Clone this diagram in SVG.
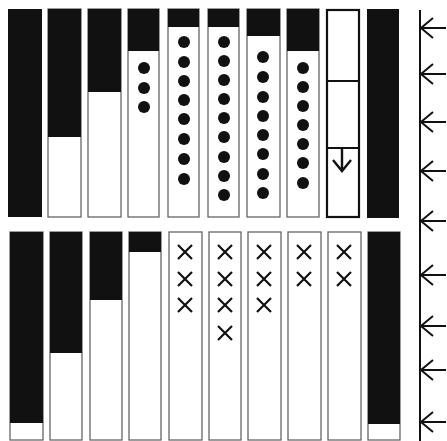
<svg xmlns="http://www.w3.org/2000/svg" width="447" height="441" viewBox="0 0 447 441">
<style>
.col{fill:#fff;stroke:#666;stroke-width:1.3}
.blk{fill:#111}
.dot{fill:#111}
.x{stroke:#111;stroke-width:2.2;fill:none}
.ax{stroke:#111;stroke-width:2;fill:none}
</style>
<defs>
<circle id="d" r="6" class="dot"/>
<path id="x" d="M-7,-7L7,7M7,-7L-7,7" class="x"/>
<path id="ar" d="M421,0H446M433,-10L421,0L433,10" class="ax"/>
</defs>
<rect width="447" height="441" fill="#fff"/>
<g id="top-1"><rect class="blk" x="8" y="9" width="34" height="208"/></g>
<g id="top-2"><rect class="col" x="48" y="9" width="33" height="208"/><rect class="blk" x="48" y="9" width="33" height="128"/></g>
<g id="top-3"><rect class="col" x="88" y="9" width="33" height="208"/><rect class="blk" x="88" y="9" width="33" height="83"/></g>
<g id="top-4"><rect class="col" x="128" y="9" width="31" height="208"/><rect class="blk" x="128" y="9" width="31" height="42"/>
<use href="#d" x="144" y="68"/><use href="#d" x="144" y="88"/><use href="#d" x="144" y="107"/></g>
<g id="top-5"><rect class="col" x="168" y="9" width="31" height="208"/><rect class="blk" x="168" y="9" width="31" height="18"/>
<use href="#d" x="184" y="42"/><use href="#d" x="184" y="62"/><use href="#d" x="184" y="81"/><use href="#d" x="184" y="100"/><use href="#d" x="184" y="119"/><use href="#d" x="184" y="139"/><use href="#d" x="184" y="159"/><use href="#d" x="184" y="179"/></g>
<g id="top-6"><rect class="col" x="208" y="9" width="31" height="208"/><rect class="blk" x="208" y="9" width="31" height="18"/>
<use href="#d" x="224" y="42"/><use href="#d" x="224" y="61"/><use href="#d" x="224" y="80"/><use href="#d" x="224" y="99"/><use href="#d" x="224" y="118"/><use href="#d" x="224" y="137"/><use href="#d" x="224" y="157"/><use href="#d" x="224" y="176"/><use href="#d" x="224" y="195"/></g>
<g id="top-7"><rect class="col" x="247" y="9" width="33" height="208"/><rect class="blk" x="247" y="9" width="33" height="27"/>
<use href="#d" x="263" y="57"/><use href="#d" x="263" y="77"/><use href="#d" x="263" y="97"/><use href="#d" x="263" y="116"/><use href="#d" x="263" y="135"/><use href="#d" x="263" y="154"/><use href="#d" x="263" y="174"/><use href="#d" x="263" y="193"/></g>
<g id="top-8"><rect class="col" x="287" y="9" width="32" height="208"/><rect class="blk" x="287" y="9" width="32" height="42"/>
<use href="#d" x="303" y="68"/><use href="#d" x="303" y="87"/><use href="#d" x="303" y="106"/><use href="#d" x="303" y="125"/><use href="#d" x="303" y="144"/><use href="#d" x="303" y="163"/><use href="#d" x="303" y="183"/></g>
<g id="top-9"><rect x="327" y="10" width="32" height="207" fill="#fff" stroke="#111" stroke-width="2.2"/>
<path d="M327,81H359M327,148H359" stroke="#111" stroke-width="2"/>
<path d="M342,149V171M333,160L342,171L351,160" stroke="#111" stroke-width="2.4" fill="none"/></g>
<g id="top-10"><rect class="blk" x="367" y="9" width="32" height="209"/></g>
<g id="bot-1"><rect class="col" x="10" y="232" width="33" height="208"/><rect class="blk" x="10" y="232" width="33" height="191"/></g>
<g id="bot-2"><rect class="col" x="50" y="232" width="32" height="208"/><rect class="blk" x="50" y="232" width="32" height="121"/></g>
<g id="bot-3"><rect class="col" x="90" y="232" width="32" height="208"/><rect class="blk" x="90" y="232" width="32" height="68"/></g>
<g id="bot-4"><rect class="col" x="129" y="232" width="32" height="208"/><rect class="blk" x="129" y="232" width="32" height="20"/></g>
<g id="bot-5"><rect class="col" x="169" y="232" width="33" height="208"/>
<use href="#x" x="185" y="252"/><use href="#x" x="185" y="279"/><use href="#x" x="185" y="305"/></g>
<g id="bot-6"><rect class="col" x="209" y="232" width="32" height="208"/>
<use href="#x" x="225" y="252"/><use href="#x" x="225" y="279"/><use href="#x" x="225" y="305"/><use href="#x" x="225" y="333"/></g>
<g id="bot-7"><rect class="col" x="248" y="232" width="33" height="208"/>
<use href="#x" x="264" y="252"/><use href="#x" x="264" y="279"/><use href="#x" x="264" y="305"/></g>
<g id="bot-8"><rect class="col" x="288" y="232" width="33" height="208"/>
<use href="#x" x="304" y="252"/><use href="#x" x="304" y="279"/></g>
<g id="bot-9"><rect class="col" x="328" y="232" width="33" height="208"/>
<use href="#x" x="344" y="252"/><use href="#x" x="344" y="279"/></g>
<g id="bot-10"><rect class="col" x="368" y="232" width="32" height="208"/><rect class="blk" x="368" y="232" width="32" height="192"/></g>
<g id="connectors">
<path d="M420,10V441" class="ax"/>
<use href="#ar" y="28"/><use href="#ar" y="74"/><use href="#ar" y="122"/><use href="#ar" y="171"/><use href="#ar" y="221"/><use href="#ar" y="275"/><use href="#ar" y="326"/><use href="#ar" y="370"/><use href="#ar" y="422"/>
</g>
</svg>
